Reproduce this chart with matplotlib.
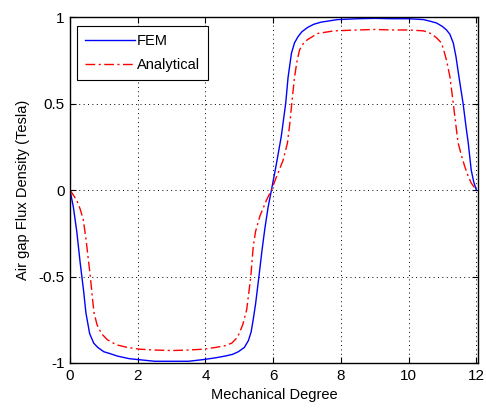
# Air gap flux density: FEM vs analytical
import numpy as np
import matplotlib
matplotlib.use('Agg')
import matplotlib.pyplot as plt

plt.rcParams['font.family'] = ['Liberation Sans', 'DejaVu Sans']

# FEM curve
fem_deg = [0.0, 0.1, 0.2, 0.3, 0.35, 0.4, 0.47, 0.58, 0.7, 0.82, 1.0, 1.17, 1.4,
           1.75, 2.0, 2.5, 3.0, 3.5, 3.95, 4.3, 4.58, 4.8, 4.97, 5.15, 5.27,
           5.35, 5.41, 5.48, 5.58, 5.67, 5.75, 5.85, 5.95, 6.1, 6.24, 6.37,
           6.44, 6.54, 6.63, 6.73, 6.85, 7.02, 7.2, 7.41, 7.9, 8.5, 9.0, 9.5,
           10.0, 10.44, 10.65, 10.83, 11.0, 11.12, 11.22, 11.32, 11.4, 11.46,
           11.53, 11.61, 11.7, 11.76, 11.85, 11.92, 12.0]
fem_b = [0.0, -0.10, -0.24, -0.42, -0.5, -0.58, -0.71, -0.83, -0.885, -0.91,
         -0.935, -0.945, -0.96, -0.975, -0.98, -0.99, -0.99, -0.99, -0.98,
         -0.97, -0.96, -0.95, -0.935, -0.91, -0.87, -0.82, -0.75, -0.66, -0.5,
         -0.35, -0.23, -0.1, 0.0, 0.155, 0.31, 0.5, 0.65, 0.79, 0.85, 0.885,
         0.915, 0.94, 0.958, 0.97, 0.985, 0.99, 0.992, 0.99, 0.99, 0.985,
         0.975, 0.965, 0.945, 0.925, 0.9, 0.85, 0.77, 0.69, 0.6, 0.5, 0.36,
         0.275, 0.115, 0.05, 0.0]

# Analytical curve
ana_deg = [0.0, 0.1, 0.2, 0.3, 0.39, 0.47, 0.54, 0.6, 0.66, 0.71, 0.8, 0.93,
           1.1, 1.37, 1.7, 2.05, 2.5, 3.0, 3.5, 3.95, 4.3, 4.58, 4.78, 4.95,
           5.1, 5.22, 5.34, 5.41, 5.48, 5.61, 5.8, 5.95, 6.1, 6.29, 6.42, 6.49,
           6.55, 6.63, 6.7, 6.78, 6.9, 7.02, 7.32, 7.8, 8.5, 9.0, 9.5, 10.0,
           10.44, 10.6, 10.73, 10.85, 10.97, 11.05, 11.12, 11.22, 11.32, 11.4,
           11.46, 11.56, 11.66, 11.76, 11.85, 12.0]
ana_b = [0.0, -0.03, -0.06, -0.11, -0.17, -0.28, -0.40, -0.5, -0.62, -0.71,
         -0.78, -0.83, -0.865, -0.895, -0.91, -0.92, -0.925, -0.928, -0.925,
         -0.92, -0.91, -0.9, -0.885, -0.85, -0.78, -0.69, -0.5, -0.33, -0.24,
         -0.15, -0.06, 0.0, 0.077, 0.17, 0.27, 0.38, 0.5, 0.65, 0.74, 0.81,
         0.85, 0.87, 0.905, 0.92, 0.925, 0.928, 0.925, 0.925, 0.92, 0.91,
         0.895, 0.875, 0.85, 0.8, 0.75, 0.655, 0.5, 0.37, 0.275, 0.2, 0.135,
         0.08, 0.04, 0.0]

xticks = [0, 2, 4, 6, 8, 10, 12]
yticks = [-1, -0.5, 0, 0.5, 1]
ytick_labels = ['-1', '-0.5', '0', '0.5', '1']

fig = plt.figure(figsize=(4.86, 4.12), dpi=100)
ax = fig.add_axes([70 / 486, 1 - 363 / 412, 408 / 486, 346 / 412])

ax.plot(fem_deg, fem_b, color='#0000ff', lw=1.0, label='FEM')
ax.plot(ana_deg, ana_b, color='#ff0000', lw=1.0,
        linestyle=(0, (7, 2.5, 1.5, 2.5)), label='Analytical')

ax.set_xlim(0, 12.05)
ax.set_ylim(-1, 1)
ax.set_xticks(xticks)
ax.set_yticks(yticks)
ax.set_yticklabels(ytick_labels)
ax.tick_params(direction='in', top=True, right=True, length=4, width=0.8,
               labelsize=11, pad=4)
ax.grid(True, color='black', linestyle=(0, (1, 3.5)), linewidth=0.7)
for s in ax.spines.values():
    s.set_linewidth(1.0)

ax.set_xlabel('Mechanical Degree', fontsize=10.5, labelpad=4)
ax.set_ylabel('Air gap Flux Density (Tesla)', fontsize=10.5, labelpad=6)

leg = ax.legend(loc='upper left', bbox_to_anchor=(7 / 408, 1 - 9 / 346),
                borderaxespad=0, fancybox=False, edgecolor='black',
                framealpha=1, fontsize=10.5, handlelength=3.4,
                handletextpad=0.15, borderpad=0.55, labelspacing=0.7)
leg.get_frame().set_linewidth(0.8)

fig.savefig('out.png', dpi=100)
